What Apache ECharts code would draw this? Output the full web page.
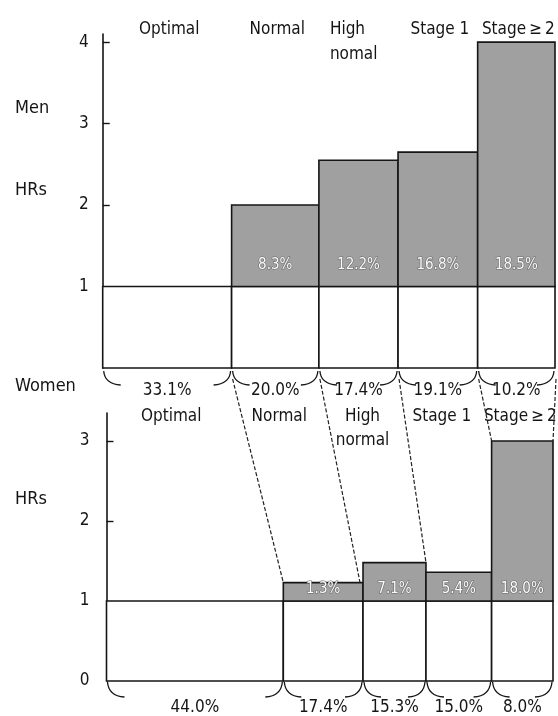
<!DOCTYPE html>
<html>
<head>
<meta charset="utf-8">
<script src="https://cdn.jsdelivr.net/npm/echarts@6/dist/echarts.min.js"></script>
<style>
  html, body { margin: 0; padding: 0; background: #ffffff; }
  #chart { width: 558px; height: 716px; }
</style>
</head>
<body>
<div id="chart"></div>
<script>
// Blood pressure categories (header texts as printed in each panel)
const menHeadLabels = ['Optimal', 'Normal', 'High\nnomal', 'Stage 1', 'Stage\u2009\u2265\u20092'];
const womenHeadLabels = ['Optimal', 'Normal', 'High\nnormal', 'Stage 1', 'Stage\u2009\u2265\u20092'];

// Hazard ratios per category (Optimal = reference)
const menHR = [1.0, 2.0, 2.55, 2.65, 4.0];
const womenHR = [1.0, 1.23, 1.48, 1.36, 3.0];

// Population attributable fractions shown inside the excess-risk blocks
const menPAF = ['', '8.3%', '12.2%', '16.8%', '18.5%'];
const womenPAF = ['', '1.3%', '7.1%', '5.4%', '18.0%'];

// Share of each sex in each category
const menShare = ['33.1%', '20.0%', '17.4%', '19.1%', '10.2%'];
const womenShare = ['44.0%', '17.4%', '15.3%', '15.0%', '8.0%'];

// Relative column widths along the horizontal axis (each panel sums to 100)
const menColWidth = [28.5, 19.3, 17.5, 17.6, 17.1];
const womenColWidth = [39.6, 17.85, 14.1, 14.7, 13.75];

// Axis ticks and tick labels
const menTickValues = [2, 3, 4];
const menTickLabels = [1, 2, 3, 4];
const womenTickValues = [2, 3];
const womenTickLabels = [0, 1, 2, 3];

// Women's bar on whose top each connector from the men's panel lands
const connectorTarget = [1, 1, 2, 4, 4];

const FONT = "'Liberation Sans Narrow', 'Arial Narrow', 'DejaVu Sans Condensed', 'Roboto Condensed', 'Liberation Sans', sans-serif";
const INK = '#151515';
const SHADE = '#a0a0a0';

function columns(widths, hr) {
  const rows = [];
  let acc = 0;
  widths.forEach((w, i) => {
    rows.push([acc, acc + w, hr[i], i]);
    acc += w;
  });
  return rows;
}

function bracket(x, y, dir, h) {
  // one curved end of a brace under a column
  return {
    type: 'bezierCurve',
    shape: { x1: x + dir * 1, y1: y, cpx1: x + dir * 2, cpy1: y + h - 1, x2: x + dir * 18, y2: y + h },
    style: { stroke: INK, lineWidth: 1.3, fill: null }
  };
}

function makeRender(panel) {
  return function (params, api) {
    const i = params.dataIndex;
    const x0 = api.value(0), x1 = api.value(1), hr = api.value(2);
    const pBase = api.coord([x0, 0]);
    const pOne = api.coord([x1, 1]);
    const pTop = api.coord([x1, hr]);
    const left = pBase[0], right = pOne[0];
    const base = pBase[1], one = pOne[1], top = pTop[1];
    const mid = (left + right) / 2;
    const kids = [];

    kids.push({
      type: 'rect',
      shape: { x: left, y: one, width: right - left, height: base - one },
      style: { fill: '#ffffff', stroke: INK, lineWidth: 1.6 }
    });
    if (hr > 1) {
      kids.push({
        type: 'rect',
        shape: { x: left, y: top, width: right - left, height: one - top },
        style: { fill: SHADE, stroke: INK, lineWidth: 1.6 }
      });
    }
    if (panel.paf[i]) {
      kids.push({
        type: 'text',
        style: {
          text: panel.paf[i], x: mid, y: one - panel.pafOffset,
          align: 'center', verticalAlign: 'middle',
          font: '15px ' + FONT, fill: '#fbfbfb', stroke: '#6a6a6a', lineWidth: 1.2
        }
      });
    }

    // brace under the column with the category share
    const by = base + panel.braceGap;
    kids.push(bracket(left, by, 1, panel.braceHeight));
    kids.push(bracket(right, by, -1, panel.braceHeight));
    kids.push({
      type: 'text',
      style: {
        text: panel.share[i], x: mid, y: base + panel.shareOffset,
        align: 'center', verticalAlign: 'middle',
        font: '17px ' + FONT, fill: INK
      }
    });

    // category header above the panel
    if (panel.head) {
      const head = panel.head[i];
      const multi = head.indexOf('\n') >= 0;
      kids.push({
        type: 'text',
        style: {
          text: head, x: multi ? left + 11 : mid + panel.headShift, y: panel.headY - 9,
          align: multi ? 'left' : 'center', verticalAlign: 'top', lineHeight: 25,
          font: '17px ' + FONT, fill: INK
        }
      });
    }
    // the women's category headers sit under the men's braces, aligned with the men's columns
    if (panel.subHead) {
      kids.push({
        type: 'text',
        style: {
          text: panel.subHead[i], x: mid + 4, y: panel.subHeadY,
          align: 'center', verticalAlign: 'top', lineHeight: 24,
          font: '17px ' + FONT, fill: INK
        }
      });
    }
    return { type: 'group', children: kids };
  };
}

const menPanel = {
  paf: menPAF, share: menShare, head: menHeadLabels, headY: 26, headShift: 2,
  subHead: womenHeadLabels, subHeadY: 405,
  pafOffset: 21, braceGap: 3, braceHeight: 14, shareOffset: 23
};
const womenPanel = {
  paf: womenPAF, share: womenShare, head: null, subHead: null,
  pafOffset: 12, braceGap: 1, braceHeight: 15, shareOffset: 27
};

function yAxisFor(gridIndex, max, ticks, labels, margin) {
  return {
    type: 'value', gridIndex: gridIndex, min: 0, max: max,
    axisLine: { show: true, lineStyle: { color: INK, width: 1.6 } },
    axisTick: { show: true, inside: true, length: 7, customValues: ticks, lineStyle: { color: INK, width: 1.4 } },
    axisLabel: {
      show: true, customValues: labels, margin: margin,
      color: INK, fontSize: 17, fontFamily: FONT,
      formatter: v => String(v)
    },
    splitLine: { show: false }
  };
}

const chart = echarts.init(document.getElementById('chart'), null, { renderer: 'canvas' });

const option = {
  backgroundColor: '#ffffff',
  animation: false,
  grid: [
    { left: 102.7, right: 3, top: 34, bottom: 348 },
    { left: 106.5, right: 5, top: 413, bottom: 35 }
  ],
  xAxis: [
    { type: 'value', gridIndex: 0, min: 0, max: 100, show: false },
    { type: 'value', gridIndex: 1, min: 0, max: 100, show: false }
  ],
  yAxis: [
    yAxisFor(0, 4.1, menTickValues, menTickLabels, 14),
    yAxisFor(1, 3.35, womenTickValues, womenTickLabels, 17)
  ],
  series: [
    {
      type: 'custom', xAxisIndex: 0, yAxisIndex: 0, clip: false,
      renderItem: makeRender(menPanel),
      data: columns(menColWidth, menHR), z: 2
    },
    {
      type: 'custom', xAxisIndex: 1, yAxisIndex: 1, clip: false,
      renderItem: makeRender(womenPanel),
      data: columns(womenColWidth, womenHR), z: 2
    }
  ],
  graphic: [
    { type: 'text', left: 15, top: 99, style: { text: 'Men', font: '18px ' + FONT, fill: INK } },
    { type: 'text', left: 15, top: 181, style: { text: 'HRs', font: '18px ' + FONT, fill: INK } },
    { type: 'text', left: 15, top: 377, style: { text: 'Women', font: '18px ' + FONT, fill: INK } },
    { type: 'text', left: 15, top: 490, style: { text: 'HRs', font: '18px ' + FONT, fill: INK } }
  ]
};

chart.setOption(option);

// dashed connectors from the men's column boundaries to the women's column boundaries
function boundaries(widths) {
  const out = [];
  let acc = 0;
  widths.forEach(w => { acc += w; out.push(acc); });
  return out;
}
const menB = boundaries(menColWidth);
const womenB = boundaries(womenColWidth);
const connectors = menB.map((b, k) => {
  const p = chart.convertToPixel({ gridIndex: 0 }, [b, 0]);
  const q = chart.convertToPixel({ gridIndex: 1 }, [womenB[k], womenHR[connectorTarget[k]]]);
  return {
    type: 'line', z: 10,
    shape: { x1: p[0] + 1, y1: p[1] + 11, x2: q[0] - (k === 1 ? 3 : 0), y2: q[1] },
    style: { stroke: '#222', lineWidth: 1.2, lineDash: [4, 2] }
  };
});
chart.setOption({ graphic: option.graphic.concat(connectors) });
</script>
</body>
</html>
